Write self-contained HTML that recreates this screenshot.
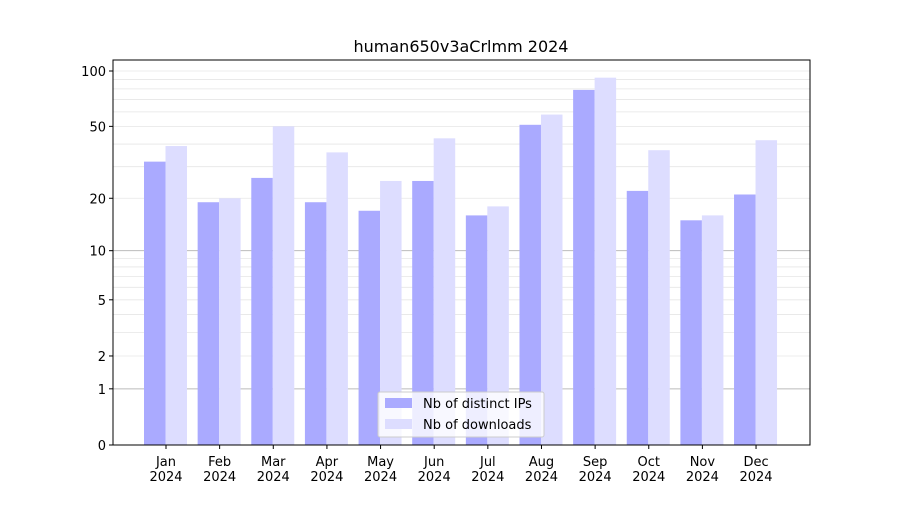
<!DOCTYPE html>
<html><head><meta charset="utf-8"><style>
body{margin:0;background:#fff;font-family:"Liberation Sans","DejaVu Sans",sans-serif}
svg text{font-family:"DejaVu Sans","Liberation Sans",sans-serif}
</style></head><body>
<svg id="chart" width="900" height="500">
<rect width="900" height="500" fill="#fff"/>
<text x="461" y="52" font-size="16" text-anchor="middle">human650v3aCrlmm 2024</text>
<g id="grid"></g><g id="bars"></g><g id="axes"></g>
<g>
<rect x="378" y="392" width="166" height="45" fill="#fff" fill-opacity="0.8" stroke="#ccc" rx="2"/>
<rect x="385" y="398" width="27" height="10" fill="#aaaaff"/>
<text x="423" y="408" font-size="13">Nb of distinct IPs</text>
<rect x="385" y="419" width="27" height="10" fill="#ddddff"/>
<text x="423" y="429" font-size="13">Nb of downloads</text>
</g>
</svg>
<script>
const months=["Jan","Feb","Mar","Apr","May","Jun","Jul","Aug","Sep","Oct","Nov","Dec"];
const ips=[32,19,26,19,17,25,16,51,79,22,15,21];
const downloads=[39,20,50,36,25,43,18,58,92,37,16,42];
const yTicks=[0,1,2,5,10,20,50,100];
const L=113,R=810,T=60,B=445,K=186.6;
const ns="http://www.w3.org/2000/svg";
function y(v){return B-K*Math.log10(1+v);}
function x(i){return 166+i*53.64;}
function el(t,a,p){const e=document.createElementNS(ns,t);for(const k in a)e.setAttribute(k,a[k]);p.appendChild(e);return e;}
const grid=document.getElementById('grid'),bars=document.getElementById('bars'),axes=document.getElementById('axes');
const minors=[2,3,4,5,6,7,8,9,20,30,40,50,60,70,80,90,100];
minors.forEach(v=>{const g=el('line',{x1:L,x2:R,y1:y(v),y2:y(v),stroke:'#e6e6e6','stroke-width':0.8},grid);
});
[1,10].forEach(v=>{const g=el('line',{x1:L,x2:R,y1:y(v),y2:y(v),stroke:'#bbbbbb','stroke-width':1},grid);
});
months.forEach((m,i)=>{
const b1=el('rect',{x:x(i)-22,y:y(ips[i]),width:21.5,height:B-y(ips[i]),fill:'#aaaaff'},bars);

const b2=el('rect',{x:x(i)-0.5,y:y(downloads[i]),width:21.5,height:B-y(downloads[i]),fill:'#ddddff'},bars);

el('line',{x1:x(i),x2:x(i),y1:B,y2:B+4,stroke:'#000'},axes);
const t=el('text',{x:x(i),y:B+21,'font-size':13,'text-anchor':'middle'},axes);t.textContent=m;

const t2=el('text',{x:x(i),y:B+36,'font-size':13,'text-anchor':'middle'},axes);t2.textContent='2024';

});
yTicks.forEach(v=>{el('line',{x1:L-4,x2:L,y1:y(v),y2:y(v),stroke:'#000'},axes);
const t=el('text',{x:L-7,y:y(v)+5,'font-size':13,'text-anchor':'end'},axes);t.textContent=v;
});
const f=el('rect',{x:L,y:T,width:R-L,height:B-T,fill:'none',stroke:'#000','stroke-width':1},axes);

</script>
</body></html>
